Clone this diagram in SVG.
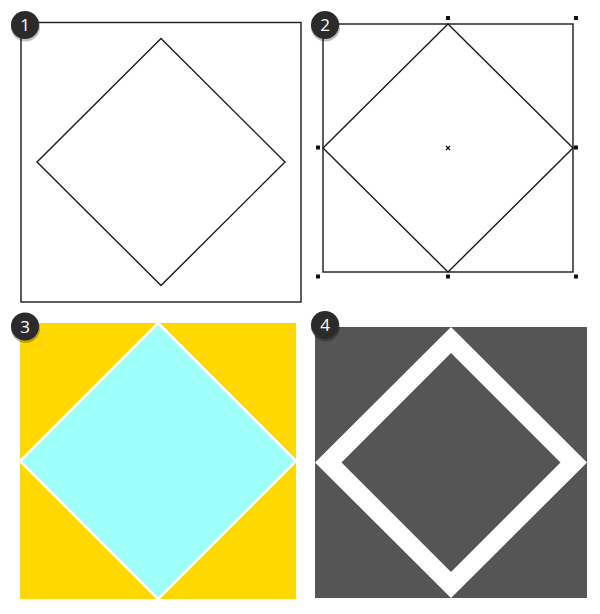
<svg xmlns="http://www.w3.org/2000/svg" width="600" height="614" viewBox="0 0 600 614">
<style>
.outline{fill:none;stroke:#1a1a1a;stroke-width:1.4}
.handle{fill:#111}
.badge circle.b{fill:#2b2b2b}
.badge circle.s{fill:#000;opacity:0.25}
.badge text{fill:#fff;font-family:"Open Sans","DejaVu Sans",sans-serif;font-size:17px;text-anchor:middle}
</style>
<rect width="600" height="614" fill="#fff"/>
<g id="panel1">
<rect class="outline" x="21" y="22.5" width="280" height="279.5"/>
<polygon class="outline" points="161,38.5 285,162 161,285.5 37,162"/>
</g>
<g id="panel2">
<rect class="outline" x="323" y="24" width="250" height="248"/>
<polygon class="outline" points="448,24 573,148 448,272 323,148"/>
<rect class="handle" x="316" y="16" width="4" height="4"/>
<rect class="handle" x="446" y="16" width="4" height="4"/>
<rect class="handle" x="574" y="16" width="4" height="4"/>
<rect class="handle" x="316" y="145.5" width="4" height="4"/>
<rect class="handle" x="574" y="145.5" width="4" height="4"/>
<rect class="handle" x="316" y="274.5" width="4" height="4"/>
<rect class="handle" x="446" y="274.5" width="4" height="4"/>
<rect class="handle" x="574" y="274.5" width="4" height="4"/>
<path d="M446,146 L450,150 M450,146 L446,150" stroke="#111" stroke-width="1.2"/>
</g>
<g id="panel3">
<rect x="20" y="323" width="276" height="276" fill="#ffd800"/>
<polygon points="158,323 296,461 158,599 20,461" fill="#9ffffb" stroke="#fff" stroke-width="2.5"/>
</g>
<g id="panel4">
<rect x="315" y="327" width="272" height="271" fill="#555555"/>
<polygon points="451,327 587,462.5 451,598 315,462.5" fill="#fff"/>
<polygon points="451,353 560.5,462.5 451,572 341.5,462.5" fill="#555555"/>
</g>
<g id="badge1" class="badge"><circle class="s" cx="25.5" cy="27" r="14.5"/><circle class="b" cx="25" cy="25" r="14"/><text x="25" y="31">1</text></g>
<g id="badge2" class="badge"><circle class="s" cx="325.5" cy="27" r="14.5"/><circle class="b" cx="325" cy="25" r="14"/><text x="325" y="31">2</text></g>
<g id="badge3" class="badge"><circle class="s" cx="25.5" cy="328.5" r="14.5"/><circle class="b" cx="25" cy="326.5" r="14"/><text x="25" y="332.5">3</text></g>
<g id="badge4" class="badge"><circle class="s" cx="325.5" cy="327" r="14.5"/><circle class="b" cx="325" cy="325" r="14"/><text x="325" y="331">4</text></g>
</svg>
